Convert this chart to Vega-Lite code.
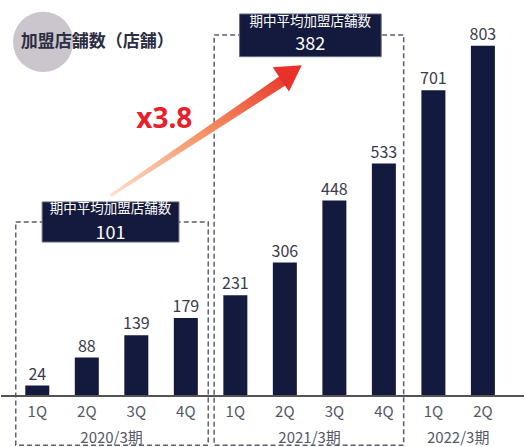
{
  "$schema": "https://vega.github.io/schema/vega-lite/v6.json",
  "width": 525,
  "height": 447,
  "padding": 0,
  "autosize": {"type": "fit", "contains": "padding"},
  "background": "white",
  "config": {"view": {"stroke": null}, "font": "Noto Sans CJK JP"},
  "datasets": {
    "bars": [
      {"i": 1, "q": "1Q", "v": 24},
      {"i": 2, "q": "2Q", "v": 88},
      {"i": 3, "q": "3Q", "v": 139},
      {"i": 4, "q": "4Q", "v": 179},
      {"i": 5, "q": "1Q", "v": 231},
      {"i": 6, "q": "2Q", "v": 306},
      {"i": 7, "q": "3Q", "v": 448},
      {"i": 8, "q": "4Q", "v": 533},
      {"i": 9, "q": "1Q", "v": 701},
      {"i": 10, "q": "2Q", "v": 803}
    ],
    "years": [
      {"x": 2.5, "label": "2020/3期"},
      {"x": 6.5, "label": "2021/3期"},
      {"x": 9.5, "label": "2022/3期"}
    ],
    "groups": [
      {"x": 0.565, "x2": 4.453, "y": 399, "y2": -113},
      {"x": 4.572, "x2": 8.4, "y": 828, "y2": -113}
    ],
    "avg": [
      {"x": 1.098, "x2": 3.861, "y": 445, "y2": 353, "tx": 2.48, "t1": 429, "t2": 372, "title": "期中平均加盟店舗数", "value": "101"},
      {"x": 5.085, "x2": 7.946, "y": 876, "y2": 778, "tx": 6.515, "t1": 857, "t2": 804, "title": "期中平均加盟店舗数", "value": "382"}
    ],
    "arrow": [
      {"x": 2.5, "y": 461, "s": 0},
      {"x": 6.05, "y": 730, "s": 1}
    ],
    "head": [{"x": 6.13, "y": 742}],
    "ratio": [{"x": 3.565, "y": 633, "label": "x3.8"}],
    "badge": [{"x": 1.118, "y": 812, "tx": 0.664, "label": "加盟店舗数（店舗）"}]
  },
  "layer": [
    {
      "data": {"name": "badge"},
      "mark": {"type": "point", "shape": "circle", "filled": true, "size": 3630, "color": "#cbc6cd", "opacity": 1},
      "encoding": {
        "x": {"field": "x", "type": "quantitative", "scale": {"domain": [0.368, 10.729], "nice": false, "zero": false}, "axis": null},
        "y": {"field": "y", "type": "quantitative", "scale": {"domain": [-117, 908], "nice": false, "zero": false}, "axis": null}
      }
    },
    {
      "data": {"name": "badge"},
      "mark": {"type": "text", "align": "left", "baseline": "middle", "fontSize": 17, "fontWeight": "bold", "color": "#2b2d42"},
      "encoding": {
        "x": {"field": "tx", "type": "quantitative", "scale": {"domain": [0.368, 10.729], "nice": false, "zero": false}, "axis": null},
        "y": {"field": "y", "type": "quantitative", "scale": {"domain": [-117, 908], "nice": false, "zero": false}, "axis": null},
        "text": {"field": "label"}
      }
    },
    {
      "data": {"name": "groups"},
      "mark": {"type": "rect", "fill": null, "fillOpacity": 0, "stroke": "#5a5e70", "strokeWidth": 1.5, "strokeDash": [5, 3]},
      "encoding": {
        "x": {"field": "x", "type": "quantitative", "scale": {"domain": [0.368, 10.729], "nice": false, "zero": false}, "axis": null},
        "x2": {"field": "x2"},
        "y": {"field": "y", "type": "quantitative", "scale": {"domain": [-117, 908], "nice": false, "zero": false}, "axis": null},
        "y2": {"field": "y2"}
      }
    },
    {
      "data": {"name": "bars"},
      "mark": {"type": "bar", "width": 24, "color": "#141a3d"},
      "encoding": {
        "x": {"field": "i", "type": "quantitative", "scale": {"domain": [0.368, 10.729], "nice": false, "zero": false}, "axis": null},
        "y": {"field": "v", "type": "quantitative", "scale": {"domain": [-117, 908], "nice": false, "zero": false}, "axis": null}
      }
    },
    {
      "data": {"name": "bars"},
      "mark": {"type": "text", "baseline": "bottom", "dy": -3, "fontSize": 16, "color": "#3a3b4a"},
      "encoding": {
        "x": {"field": "i", "type": "quantitative", "scale": {"domain": [0.368, 10.729], "nice": false, "zero": false}, "axis": null},
        "y": {"field": "v", "type": "quantitative", "scale": {"domain": [-117, 908], "nice": false, "zero": false}, "axis": null},
        "text": {"field": "v", "type": "quantitative"}
      }
    },
    {
      "data": {"name": "bars"},
      "mark": {"type": "text", "baseline": "middle", "fontSize": 15, "color": "#555866"},
      "encoding": {
        "x": {"field": "i", "type": "quantitative", "scale": {"domain": [0.368, 10.729], "nice": false, "zero": false}, "axis": null},
        "y": {"datum": -37, "type": "quantitative", "scale": {"domain": [-117, 908], "nice": false, "zero": false}, "axis": null},
        "text": {"field": "q"}
      }
    },
    {
      "data": {"name": "years"},
      "mark": {"type": "text", "baseline": "middle", "fontSize": 15, "color": "#555866"},
      "encoding": {
        "x": {"field": "x", "type": "quantitative", "scale": {"domain": [0.368, 10.729], "nice": false, "zero": false}, "axis": null},
        "y": {"datum": -96, "type": "quantitative", "scale": {"domain": [-117, 908], "nice": false, "zero": false}, "axis": null},
        "text": {"field": "label"}
      }
    },
    {
      "data": {"name": "bars"},
      "mark": {"type": "rule", "color": "#555555", "strokeWidth": 1.5},
      "encoding": {
        "y": {"datum": 0, "type": "quantitative", "scale": {"domain": [-117, 908], "nice": false, "zero": false}, "axis": null}
      }
    },
    {
      "data": {"name": "avg"},
      "mark": {"type": "rect", "color": "#141a3d", "stroke": "#6a6e80", "strokeWidth": 1},
      "encoding": {
        "x": {"field": "x", "type": "quantitative", "scale": {"domain": [0.368, 10.729], "nice": false, "zero": false}, "axis": null},
        "x2": {"field": "x2"},
        "y": {"field": "y", "type": "quantitative", "scale": {"domain": [-117, 908], "nice": false, "zero": false}, "axis": null},
        "y2": {"field": "y2"}
      }
    },
    {
      "data": {"name": "avg"},
      "mark": {"type": "text", "baseline": "middle", "fontSize": 13.5, "color": "white"},
      "encoding": {
        "x": {"field": "tx", "type": "quantitative", "scale": {"domain": [0.368, 10.729], "nice": false, "zero": false}, "axis": null},
        "y": {"field": "t1", "type": "quantitative", "scale": {"domain": [-117, 908], "nice": false, "zero": false}, "axis": null},
        "text": {"field": "title"}
      }
    },
    {
      "data": {"name": "avg"},
      "mark": {"type": "text", "baseline": "middle", "fontSize": 18, "color": "white"},
      "encoding": {
        "x": {"field": "tx", "type": "quantitative", "scale": {"domain": [0.368, 10.729], "nice": false, "zero": false}, "axis": null},
        "y": {"field": "t2", "type": "quantitative", "scale": {"domain": [-117, 908], "nice": false, "zero": false}, "axis": null},
        "text": {"field": "value"}
      }
    },
    {
      "data": {"name": "arrow"},
      "mark": {"type": "trail", "fill": {"gradient": "linear", "x1": 0, "y1": 1, "x2": 1, "y2": 0, "stops": [{"offset": 0, "color": "#fde0cf"}, {"offset": 0.5, "color": "#f59466"}, {"offset": 1, "color": "#e8342a"}]}},
      "encoding": {
        "x": {"field": "x", "type": "quantitative", "scale": {"domain": [0.368, 10.729], "nice": false, "zero": false}, "axis": null},
        "y": {"field": "y", "type": "quantitative", "scale": {"domain": [-117, 908], "nice": false, "zero": false}, "axis": null},
        "size": {"field": "s", "type": "quantitative", "scale": {"range": [3, 11]}, "legend": null}
      }
    },
    {
      "data": {"name": "head"},
      "mark": {"type": "point", "shape": "triangle-up", "filled": true, "size": 850, "angle": 56, "color": "#e8312a", "opacity": 1},
      "encoding": {
        "x": {"field": "x", "type": "quantitative", "scale": {"domain": [0.368, 10.729], "nice": false, "zero": false}, "axis": null},
        "y": {"field": "y", "type": "quantitative", "scale": {"domain": [-117, 908], "nice": false, "zero": false}, "axis": null}
      }
    },
    {
      "data": {"name": "ratio"},
      "mark": {"type": "text", "baseline": "middle", "fontSize": 28, "fontWeight": "bold", "font": "Noto Sans", "color": "#e8202a"},
      "encoding": {
        "x": {"field": "x", "type": "quantitative", "scale": {"domain": [0.368, 10.729], "nice": false, "zero": false}, "axis": null},
        "y": {"field": "y", "type": "quantitative", "scale": {"domain": [-117, 908], "nice": false, "zero": false}, "axis": null},
        "text": {"field": "label"}
      }
    }
  ]
}
